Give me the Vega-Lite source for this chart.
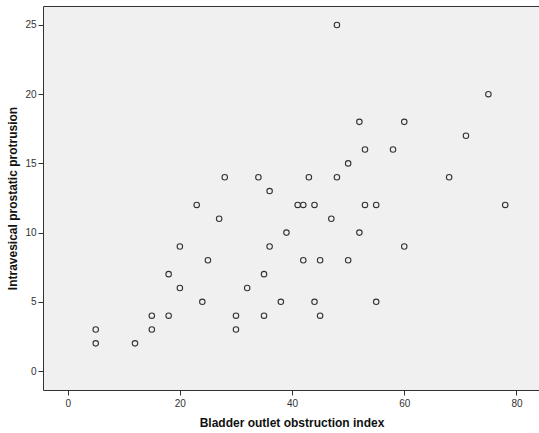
{
  "$schema": "https://vega.github.io/schema/vega-lite/v6.json",
  "width": 497,
  "height": 384,
  "autosize": {"type": "none"},
  "padding": {"left": 43, "top": 6, "right": 0, "bottom": 43},
  "background": "white",
  "config": {
    "view": {"fill": "#F0F0F0", "stroke": "#333333", "strokeWidth": 1},
    "axis": {
      "domain": false,
      "grid": false,
      "tickColor": "#333333",
      "tickSize": 5,
      "labelFont": "Liberation Sans",
      "labelFontSize": 10,
      "labelColor": "#333333",
      "titleFont": "Liberation Sans",
      "titleFontSize": 12,
      "titleFontWeight": "bold",
      "titleColor": "#111111"
    }
  },
  "data": {"values": [
    {"boo": 5, "ipp": 3}, {"boo": 5, "ipp": 2}, {"boo": 12, "ipp": 2},
    {"boo": 15, "ipp": 4}, {"boo": 15, "ipp": 3}, {"boo": 18, "ipp": 7},
    {"boo": 18, "ipp": 4}, {"boo": 20, "ipp": 9}, {"boo": 20, "ipp": 6},
    {"boo": 24, "ipp": 5}, {"boo": 25, "ipp": 8}, {"boo": 27, "ipp": 11},
    {"boo": 30, "ipp": 4}, {"boo": 30, "ipp": 3}, {"boo": 32, "ipp": 6},
    {"boo": 35, "ipp": 7}, {"boo": 35, "ipp": 4}, {"boo": 36, "ipp": 9},
    {"boo": 23, "ipp": 12}, {"boo": 28, "ipp": 14}, {"boo": 34, "ipp": 14},
    {"boo": 36, "ipp": 13}, {"boo": 48, "ipp": 25}, {"boo": 75, "ipp": 20},
    {"boo": 52, "ipp": 18}, {"boo": 60, "ipp": 18}, {"boo": 71, "ipp": 17},
    {"boo": 53, "ipp": 16}, {"boo": 58, "ipp": 16}, {"boo": 50, "ipp": 15},
    {"boo": 43, "ipp": 14}, {"boo": 48, "ipp": 14}, {"boo": 68, "ipp": 14},
    {"boo": 41, "ipp": 12}, {"boo": 42, "ipp": 12}, {"boo": 44, "ipp": 12},
    {"boo": 53, "ipp": 12}, {"boo": 55, "ipp": 12}, {"boo": 78, "ipp": 12},
    {"boo": 47, "ipp": 11}, {"boo": 39, "ipp": 10}, {"boo": 52, "ipp": 10},
    {"boo": 60, "ipp": 9}, {"boo": 42, "ipp": 8}, {"boo": 45, "ipp": 8},
    {"boo": 50, "ipp": 8}, {"boo": 38, "ipp": 5}, {"boo": 44, "ipp": 5},
    {"boo": 55, "ipp": 5}, {"boo": 45, "ipp": 4}
  ]},
  "mark": {"type": "point", "shape": "circle", "filled": false, "size": 30, "stroke": "#333333", "strokeWidth": 1.1, "opacity": 1},
  "encoding": {
    "x": {
      "field": "boo", "type": "quantitative",
      "scale": {"domain": [-4.4, 84.2], "nice": false, "zero": false},
      "axis": {"title": "Bladder outlet obstruction index", "values": [0, 20, 40, 60, 80], "labelPadding": 3, "titlePadding": 9}
    },
    "y": {
      "field": "ipp", "type": "quantitative",
      "scale": {"domain": [-1.37, 26.37], "nice": false, "zero": false},
      "axis": {"title": "Intravesical prostatic protrusion", "values": [0, 5, 10, 15, 20, 25], "labelPadding": 2, "titlePadding": 5}
    }
  }
}
